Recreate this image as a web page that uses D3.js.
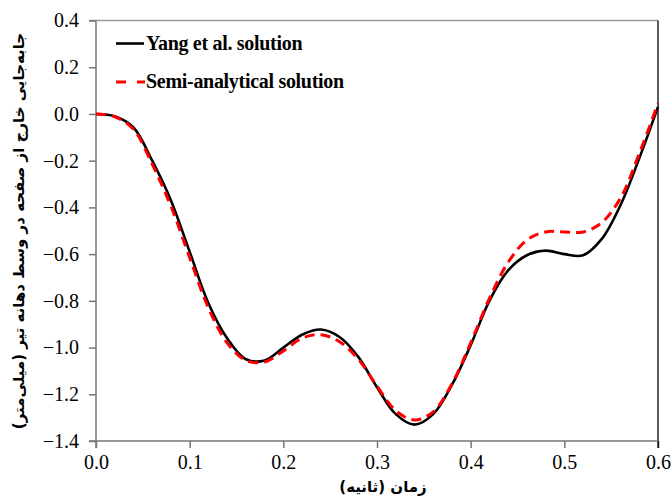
<!DOCTYPE html>
<html>
<head>
<meta charset="utf-8">
<script src="https://cdn.jsdelivr.net/npm/d3@7"></script>
<style>
  body { margin: 0; background: #fff; }
  svg { display: block; }
</style>
</head>
<body>
<div id="chart"></div>
<script>
// time (s)
const time = [0, 0.02, 0.04, 0.06, 0.08, 0.10, 0.12, 0.14, 0.16, 0.18, 0.20,
  0.22, 0.24, 0.26, 0.28, 0.30, 0.32, 0.34, 0.36, 0.38, 0.40,
  0.42, 0.44, 0.46, 0.48, 0.50, 0.52, 0.54, 0.56, 0.58, 0.60];
// Yang et al. solution
const yang = [0, -0.01, -0.058, -0.20, -0.37, -0.59, -0.81, -0.96, -1.05, -1.055, -1.00,
  -0.945, -0.923, -0.955, -1.04, -1.17, -1.285, -1.33, -1.285, -1.16, -0.99,
  -0.80, -0.67, -0.605, -0.585, -0.60, -0.605, -0.535, -0.39, -0.19, 0.03];
// Semi-analytical solution
const semi = [0, -0.012, -0.066, -0.215, -0.395, -0.615, -0.83, -0.98, -1.055, -1.062, -1.015,
  -0.96, -0.945, -0.975, -1.05, -1.165, -1.27, -1.31, -1.275, -1.155, -0.98,
  -0.79, -0.635, -0.54, -0.505, -0.505, -0.505, -0.465, -0.36, -0.17, 0.045];

const xTicks = [0, 0.1, 0.2, 0.3, 0.4, 0.5, 0.6];
const yTicks = [0.4, 0.2, 0, -0.2, -0.4, -0.6, -0.8, -1.0, -1.2, -1.4];

const width = 672, height = 497;
const margin = { top: 20.5, left: 96, bottom: 56, right: 14 };
const serif = '"Liberation Serif", "Times New Roman", serif';

const x = d3.scaleLinear().domain([0, 0.6]).range([margin.left, width - margin.right]);
const y = d3.scaleLinear().domain([-1.4, 0.4]).range([height - margin.bottom, margin.top]);

const svg = d3.select('#chart').append('svg')
  .attr('width', width)
  .attr('height', height);

// top and right frame
svg.append('line')
  .attr('x1', x(0) - 7).attr('x2', x(0.6))
  .attr('y1', y(0.4)).attr('y2', y(0.4))
  .attr('stroke', '#999').attr('stroke-width', 1.5);
svg.append('line')
  .attr('x1', x(0.6)).attr('x2', x(0.6))
  .attr('y1', y(0.4)).attr('y2', y(-1.4) + 7)
  .attr('stroke', '#222').attr('stroke-width', 1.5);

// axes
const xAxis = svg.append('g')
  .attr('transform', `translate(0,${y(-1.4)})`)
  .call(d3.axisBottom(x).tickValues(xTicks).tickFormat(d3.format('.1f')).tickSize(7).tickSizeOuter(0));
const yAxis = svg.append('g')
  .attr('transform', `translate(${x(0)},0)`)
  .call(d3.axisLeft(y).tickValues(yTicks).tickFormat(d3.format('.1f')).tickSize(7).tickSizeOuter(0));

[xAxis, yAxis].forEach(g => {
  g.attr('font-family', serif).attr('font-size', 20);
  g.selectAll('.domain').attr('stroke', '#777').attr('stroke-width', 1.5);
  g.selectAll('.tick line').attr('stroke', '#777').attr('stroke-width', 1.5);
  g.selectAll('.tick text')
    .attr('fill', '#000')
    .style('font-family', serif)
    .style('font-size', '20px');
});
// x axis extends a bit left of the y axis
xAxis.select('.domain').attr('d', `M${x(0) - 7},0H${x(0.6)}`);
yAxis.select('.domain').attr('d', `M0,${y(0.4)}V${y(-1.4) + 7}`);
xAxis.selectAll('.tick text').attr('dy', '0.9em');
yAxis.selectAll('.tick text').attr('x', -17);
xAxis.selectAll('.tick').filter(d => d === 0.6).select('line').attr('stroke', '#222');

// lines
const line = (vals) => d3.line()
  .x((d, i) => x(time[i]))
  .y(d => y(d))
  .curve(d3.curveCatmullRom.alpha(0.5))(vals);

svg.append('path')
  .attr('d', line(yang))
  .attr('fill', 'none')
  .attr('stroke', '#000')
  .attr('stroke-width', 2.6);

svg.append('path')
  .attr('d', line(semi))
  .attr('fill', 'none')
  .attr('stroke', '#ff0000')
  .attr('stroke-width', 3)
  .attr('stroke-dasharray', '10,6');

// legend
const legend = svg.append('g').attr('transform', 'translate(116,0)');
legend.append('line')
  .attr('x1', 0).attr('x2', 28).attr('y1', 43.5).attr('y2', 43.5)
  .attr('stroke', '#000').attr('stroke-width', 2.6);
legend.append('text')
  .attr('x', 30).attr('y', 50)
  .text('Yang et al. solution');
legend.append('line')
  .attr('x1', 0).attr('x2', 29).attr('y1', 82).attr('y2', 82)
  .attr('stroke', '#ff0000').attr('stroke-width', 3)
  .attr('stroke-dasharray', '10,11');
legend.append('text')
  .attr('x', 30).attr('y', 88)
  .text('Semi-analytical solution');
legend.selectAll('text')
  .style('font-family', serif)
  .style('font-size', '20px')
  .style('font-weight', 'bold')
  .style('letter-spacing', '-0.3px')
  .attr('fill', '#000');

// axis titles
svg.append('text')
  .attr('x', 383).attr('y', 492)
  .attr('text-anchor', 'middle')
  .attr('direction', 'rtl')
  .style('font-family', '"DejaVu Sans", sans-serif')
  .style('font-size', '15px')
  .style('font-weight', 'bold')
  .text('زمان (ثانیه)');

svg.append('text')
  .attr('transform', 'translate(24,231) rotate(-90)')
  .attr('text-anchor', 'middle')
  .attr('direction', 'rtl')
  .style('font-family', '"DejaVu Sans", sans-serif')
  .style('font-size', '15px')
  .style('font-weight', 'bold')
  .text('جابه‌جایی خارج از صفحه در وسط دهانه تیر (میلی‌متر)');
</script>
</body>
</html>
